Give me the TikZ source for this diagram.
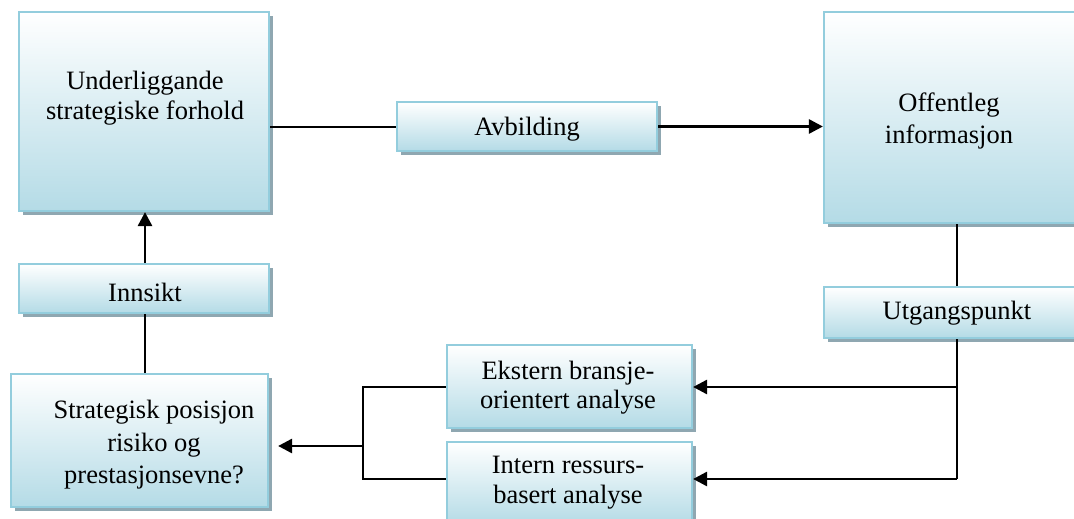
\documentclass[tikz,border=0pt]{standalone}
\usepackage{fontspec}
\setmainfont{Liberation Serif}
\usetikzlibrary{arrows.meta,shadows}
\definecolor{bord}{HTML}{93CDDD}
\definecolor{boxbot}{HTML}{B4DBE6}
\definecolor{shad}{HTML}{8FA7B1}
\begin{document}
\begin{tikzpicture}[x=1pt,y=-1pt,
  box/.style={draw=bord, line width=2.2pt, top color=white, bottom color=boxbot, inner sep=0pt,
    drop shadow={shadow xshift=4pt, shadow yshift=-4pt, fill=shad, opacity=1}},
  txt/.style={font=\fontsize{26.5}{30}\selectfont, align=center, inner sep=0pt, text=black},
  ln/.style={line width=2pt},
  arr/.style={line width=2.8pt, -{Triangle[length=14pt,width=14pt]}}]
\useasboundingbox (0,0) rectangle (1074,519);
\clip (0,0) rectangle (1074,519);
% boxes
\node[box, minimum width=250pt, minimum height=199pt] (U) at (144,111.5) {};
\node[box, minimum width=260pt, minimum height=49pt] (A) at (527,126.5) {};
\node[box, minimum width=254pt, minimum height=211pt] (O) at (951,117.5) {};
\node[box, minimum width=254pt, minimum height=51pt] (Ut) at (951,312.5) {};
\node[box, minimum width=245pt, minimum height=83pt] (Ek) at (569.5,386.5) {};
\node[box, minimum width=245pt, minimum height=83pt] (In) at (569.5,483.5) {};
\node[box, minimum width=257pt, minimum height=133pt] (S) at (139.5,440.5) {};
\node[box, minimum width=250pt, minimum height=49pt] (I) at (144,288.5) {};
% texts
\node[txt] (Ut1) at (145,98) {Underliggande\\strategiske forhold};
\node[txt] (At) at (527,129) {Avbilding};
\node[txt, font=\fontsize{26.5}{32}\selectfont] (Ot) at (949,121) {Offentleg\\informasjon};
\node[txt] (Utt) at (957,313) {Utgangspunkt};
\node[txt, font=\fontsize{26.5}{29}\selectfont] (Ekt) at (568,388) {Ekstern bransje-\\orientert analyse};
\node[txt] (Int) at (568,483) {Intern ressurs-\\basert analyse};
\node[txt, font=\fontsize{26.5}{32.5}\selectfont] (St) at (154,445) {Strategisk posisjon\\risiko og\\prestasjonsevne?};
\node[txt] (It) at (145,292) {Innsikt};
% connectors
\coordinate (j1) at (957,387);
\coordinate (j2) at (957,479);
\coordinate (k1) at (363,387);
\coordinate (k2) at (363,479);
\coordinate (k3) at (363,446);
\draw[ln] (U.east |- A.west) -- (A.west);
\draw[arr] (A.east) -- (O.west |- A.east);
\draw[arr] (I.north -| 145,0) -- (U.south -| 145,0);
\draw[ln] (S.north -| 145,0) -- (I.south -| 145,0);
\draw[ln] (O.south -| 957,0) -- (Ut.north -| 957,0);
\draw[line width=2.6pt] (Ut.south -| 957,0) -- (j2);
\draw[arr] (j1) -- (Ek.east |- j1);
\draw[arr] (j2) -- (In.east |- j2);
\draw[line width=2.6pt] (Ek.west |- k1) -- (k1) -- (k2) -- (In.west |- k2);
\draw[arr, shorten >=9pt] (k3) -- (S.east |- k3);
\end{tikzpicture}
\end{document}
